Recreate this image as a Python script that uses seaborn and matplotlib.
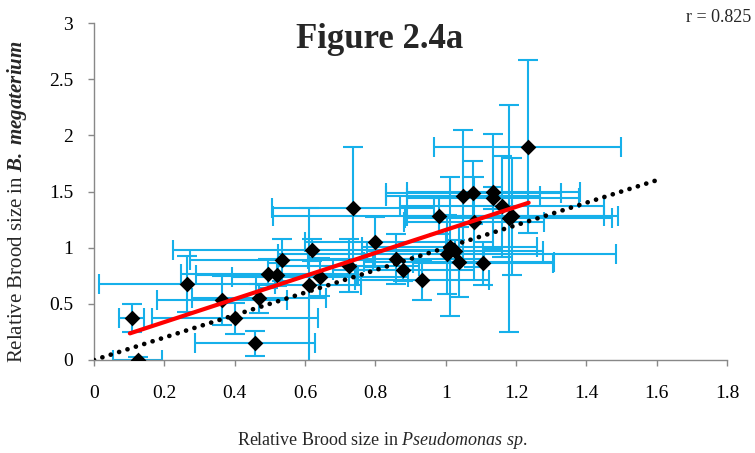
import matplotlib
matplotlib.use("Agg")
import matplotlib.pyplot as plt
import seaborn as sns
import numpy as np
import pandas as pd

# ---- data ----
x_vals = [0.107, 0.124, 0.264, 0.363, 0.401, 0.458, 0.470, 0.496, 0.520, 0.534,
          0.610, 0.619, 0.643, 0.724, 0.736, 0.800, 0.858, 0.880, 0.932, 0.980,
          1.003, 1.011, 1.027, 1.037, 1.049, 1.079, 1.081, 1.106, 1.134, 1.136,
          1.160, 1.179, 1.190, 1.233]
y_vals = [0.37, 0.00, 0.68, 0.53, 0.37, 0.15, 0.55, 0.77, 0.76, 0.89,
          0.67, 0.98, 0.74, 0.84, 1.35, 1.05, 0.90, 0.80, 0.71, 1.28,
          0.94, 1.01, 0.97, 0.87, 1.46, 1.49, 1.23, 0.86, 1.44, 1.50,
          1.37, 1.26, 1.28, 1.90]
x_err = [0.036, 0.070, 0.250, 0.185, 0.235, 0.170, 0.190, 0.250, 0.230, 0.260,
         0.150, 0.395, 0.250, 0.200, 0.230, 0.200, 0.250, 0.200, 0.190, 0.470,
         0.480, 0.250, 0.250, 0.270, 0.220, 0.250, 0.200, 0.200, 0.245, 0.245,
         0.290, 0.295, 0.300, 0.265]
y_err = [0.125, 0.030, 0.250, 0.215, 0.140, 0.110, 0.130, 0.130, 0.100, 0.190,
         0.680, 0.100, 0.170, 0.235, 0.550, 0.220, 0.220, 0.100, 0.180, 0.160,
         0.350, 0.620, 0.100, 0.310, 0.590, 0.280, 0.400, 0.190, 0.100, 0.510,
         0.450, 1.010, 0.520, 0.770]

fit_x = [0.102, 1.236]          # red trend line end points
fit_y = [0.237, 1.400]
ref_x = [0.0, 1.6]              # dotted 1:1 line
ref_y = [0.0, 1.6]

x_ticks = [0, 0.2, 0.4, 0.6, 0.8, 1.0, 1.2, 1.4, 1.6, 1.8]
x_tick_labels = ["0", "0.2", "0.4", "0.6", "0.8", "1", "1.2", "1.4", "1.6", "1.8"]
y_ticks = [0, 0.5, 1.0, 1.5, 2.0, 2.5, 3.0]
y_tick_labels = ["0", "0.5", "1", "1.5", "2", "2.5", "3"]

df = pd.DataFrame({"x": x_vals, "y": y_vals, "xerr": x_err, "yerr": y_err})

sns.set_style("ticks")
plt.rcParams["font.family"] = ["Liberation Serif", "DejaVu Serif"]
plt.rcParams["mathtext.fontset"] = "custom"
plt.rcParams["mathtext.rm"] = "Liberation Serif"
plt.rcParams["mathtext.it"] = "Liberation Serif:italic"
plt.rcParams["mathtext.bf"] = "Liberation Serif:italic:bold"

fig = plt.figure(figsize=(7.55, 4.53), dpi=100)
ax = fig.add_axes([94/755, 93/453, (727-94)/755, (360-23)/453])

ax.errorbar(df["x"], df["y"], xerr=df["xerr"], yerr=df["yerr"], fmt="none",
            ecolor="#16B0EA", elinewidth=1.5, capsize=7, capthick=1.5, zorder=2)

sns.scatterplot(data=df, x="x", y="y", marker="D", s=64, color="black",
                edgecolor="black", linewidth=0, ax=ax, zorder=3, legend=False)

sns.lineplot(x=fit_x, y=fit_y, color="#FF0000", linewidth=3.0, ax=ax, zorder=4)
sns.lineplot(x=ref_x, y=ref_y, color="black", linewidth=3.4, ax=ax, zorder=5,
             linestyle=(0, (0.01, 1.85)))
ax.lines[-1].set_dash_capstyle("round")

ax.set_xlim(0, 1.8)
ax.set_ylim(0, 3)
ax.set_xticks(x_ticks)
ax.set_xticklabels(x_tick_labels)
ax.set_yticks(y_ticks)
ax.set_yticklabels(y_tick_labels)
ax.tick_params(axis="both", labelsize=14, colors="#888888", labelcolor="black",
               length=4, width=1, direction="out")
ax.tick_params(axis="x", pad=14)
ax.tick_params(axis="y", pad=11)

for side in ["top", "right"]:
    ax.spines[side].set_visible(False)
for side in ["left", "bottom"]:
    ax.spines[side].set_color("#888888")
    ax.spines[side].set_linewidth(1)

ax.set_xlabel("Relative Brood size in $\\mathit{Pseudomonas\\ sp.}$", fontsize=13)
ax.set_ylabel("Relative Brood size in $\\mathbf{B.\\ megaterium}$", fontsize=15)
ax.yaxis.set_label_coords((29 - 94) / 633, 0.47)
ax.xaxis.set_label_coords((382 - 94) / 633, -(430 - 360) / 337)

fig.text(380/755, 1 - 40/453, "Figure 2.4a", ha="center", va="center",
         fontsize=25, fontweight="bold")
fig.text(751/755, 1 - 18/453, "r = 0.825", ha="right", va="center", fontsize=13)

fig.savefig("out.png", dpi=100)
